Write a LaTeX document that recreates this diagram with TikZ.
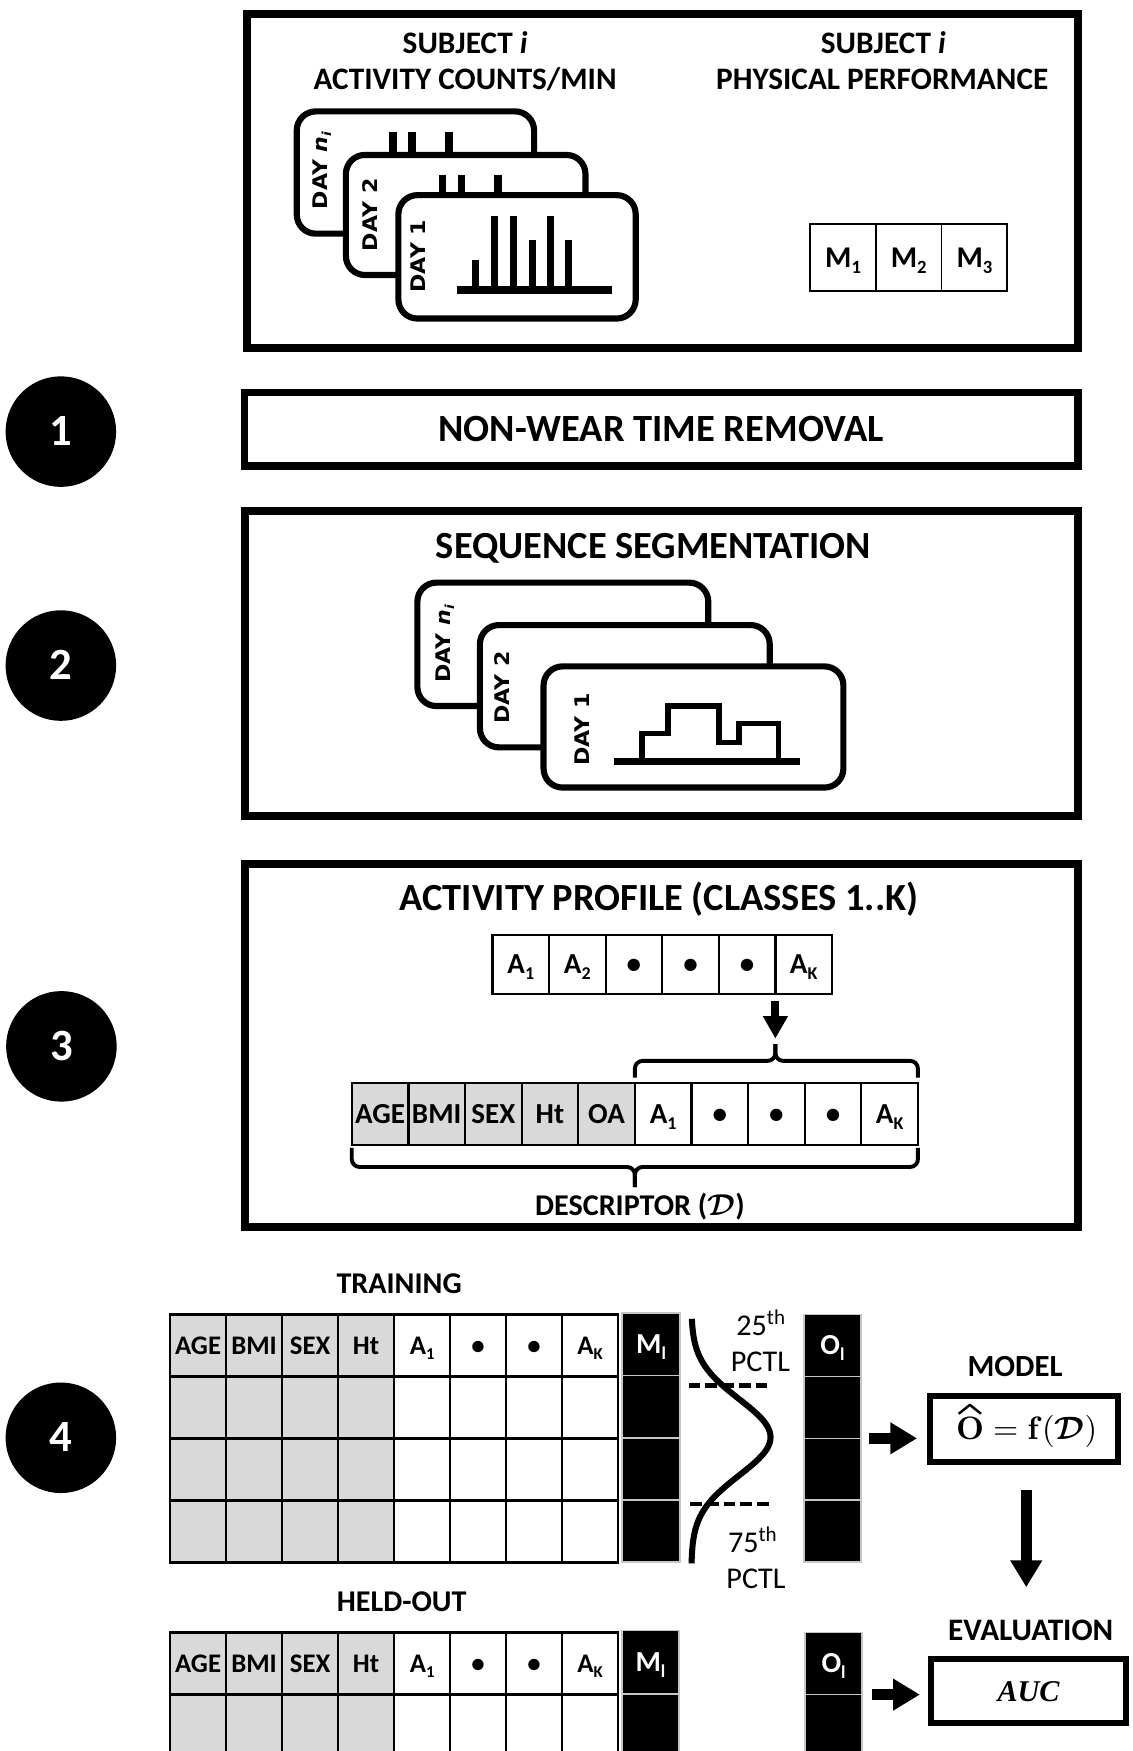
\RequirePackage{fix-cm}
\documentclass[tikz,border=0pt]{standalone}
\usepackage{amsmath}
\usepackage[no-math]{fontspec}
\setmainfont{Carlito}
\newfontfamily\dayfont{DejaVu Sans}
\newfontfamily\serifit{Liberation Serif}
\usetikzlibrary{arrows.meta,calc}
\definecolor{cellgray}{HTML}{D9D9D9}
\newcommand\fsz[1]{\fontsize{#1}{#1}\selectfont}
\newcommand\lowsub[1]{\raisebox{-0.2em}{\scalebox{0.62}{#1}}}
\newcommand\wide[1]{\scalebox{1.1}[1]{#1}}
\newcommand\dayni{\wide{DAY \textit{n}\lowsub{\textit{i}}}}
\begin{document}
\begin{tikzpicture}[x=1pt,y=-1pt,
  bigbox/.style={draw, line width=7pt},
  card/.style={draw, fill=white, line width=5.5pt, rounded corners=17pt},
  daylbl/.style={font=\dayfont\bfseries\fsz{18}, rotate=90, anchor=base west, inner sep=0pt},
  barline/.style={line width=6.5pt},
  axisline/.style={line width=7pt},
  stepline/.style={line width=5pt},
  stepnum/.style={circle, fill=black, minimum size=99pt, inner sep=0pt, text=white,
    font=\bfseries\fsz{40}, text height=25.3pt, text depth=0pt},
  title/.style={font=\bfseries\fsz{34.4}, anchor=base, inner sep=0pt},
  lbl/.style={font=\bfseries\fsz{27}, anchor=base, inner sep=0pt},
  plbl/.style={font=\fsz{27}, anchor=base, inner sep=0pt},
  cellbase/.style={draw, inner sep=0pt, outer sep=0pt, anchor=north west, text depth=0pt},
  mcell/.style={cellbase, line width=1.5pt, minimum width=58.8pt, minimum height=59.8pt,
    font=\bfseries\fsz{27}, text height=17.4pt},
  pcell/.style={cellbase, line width=2pt, minimum width=50.7pt, minimum height=55pt,
    font=\bfseries\fsz{26}, text height=16.7pt},
  tcell/.style={cellbase, line width=2.4pt, minimum width=50.15pt, minimum height=55.5pt,
    font=\bfseries\fsz{24}, text height=15.5pt},
  grayfill/.style={fill=cellgray},
  bcell/.style={cellbase, fill=black, draw=gray!45, line width=1.5pt, text=white,
    font=\bfseries\fsz{26}, text height=16.7pt},
  fatarrow/.style={line width=9.5pt, -{Triangle[width=27pt,length=24pt]}},
  thinarrow/.style={line width=7pt, -{Triangle[width=21pt,length=20pt]}},
  bracepath/.style={line width=3.5pt, rounded corners=7pt},
  dashline/.style={line width=4pt, dash pattern=on 10.5pt off 4.5pt},
  outbox/.style={draw, line width=5.5pt, inner sep=0pt, outer sep=0pt}
]
\useasboundingbox (0,0) rectangle (1014,1568);
\clip (0,0) rectangle (1014,1568);
\fill[white] (0,0) rectangle (1014,1568);

% ---- step markers ----
\node[stepnum] (n1) at (54.5,386.5) {1};
\node[stepnum] (n2) at (54.5,596) {2};
\node[stepnum] (n3) at (55,937) {3};
\node[stepnum] (n4) at (54.5,1287.5) {4};

% ---- input data ----
\draw[bigbox] (221.5,12.5) rectangle (965.5,311.5);
\node[lbl, font=\bfseries\fsz{28}] (subjA) at (416.5,47.5) {SUBJECT \textit{i}};
\node[lbl, font=\bfseries\fsz{28}] (countsA) at (416.5,79.7) {ACTIVITY COUNTS/MIN};
\node[lbl, font=\bfseries\fsz{28}] (subjB) at (791,47.5) {SUBJECT \textit{i}};
\node[lbl, font=\bfseries\fsz{28}] (perfB) at (790,79.7) {PHYSICAL PERFORMANCE};

\begin{scope}[shift={(263,97)}]
  \draw[card] (2.75,2.75) rectangle (215.25,112.25);
  \foreach \bx/\by in {72/61,89/21,106/21,123/43,139/21,155/43}
    \draw[barline] (\bx,88) -- (\bx,\by);
  \draw[axisline] (55,88) -- (194,88);
  \node[daylbl] (cnlbl) at (30,90.5) {\dayni};
\end{scope}
\begin{scope}[shift={(307,136)}]
  \draw[card] (2.75,2.75) rectangle (217.25,110.25);
  \foreach \bx/\by in {72/61,89/21,106/21,123/43,139/21,155/43}
    \draw[barline] (\bx,88) -- (\bx,\by);
  \draw[axisline] (55,88) -- (194,88);
  \node[daylbl] (c2lbl) at (31,89) {\wide{DAY 2}};
\end{scope}
\begin{scope}[shift={(354,172)}]
  \draw[card] (2.75,2.75) rectangle (215.25,113.25);
  \foreach \bx/\by in {72/61,89/21,106/21,123/43,139/21,155/43}
    \draw[barline] (\bx,88) -- (\bx,\by);
  \draw[axisline] (55,88) -- (194,88);
  \node[daylbl] (c1lbl) at (27,90) {\wide{DAY 1}};
\end{scope}

\foreach \i in {1,2,3}
  \node[mcell] (m\i) at ({725.6+(\i-1)*58.8},200.6) {M\lowsub{\i}};

% ---- step 1 ----
\draw[bigbox] (219,351.5) rectangle (965.5,417);
\node[title, font=\bfseries\fsz{34.5}] (nwt) at (592,395.4) {NON-WEAR TIME REMOVAL};

% ---- step 2 ----
\draw[bigbox] (219.5,457.5) rectangle (965.5,730.5);
\node[title] (seg) at (585,500.5) {SEQUENCE SEGMENTATION};
\begin{scope}[shift={(371,519)}]
  \draw[card] (2.75,2.75) rectangle (263.25,113.25);
  \node[daylbl] (snlbl) at (32,92.5) {\dayni};
\end{scope}
\begin{scope}[shift={(427,557)}]
  \draw[card] (2.75,2.75) rectangle (262.25,112.25);
  \node[daylbl] (s2lbl) at (29.5,91.5) {\wide{DAY 2}};
\end{scope}
\begin{scope}[shift={(484,594)}]
  \draw[card] (2.75,2.75) rectangle (271.25,111.25);
  \node[daylbl] (s1lbl) at (43.5,92) {\wide{DAY 1}};
  \draw[stepline] (91,88) -- (91,63) -- (114,63) -- (114,38) -- (160,38) -- (160,71)
    -- (178,71) -- (178,54) -- (213,54) -- (213,88);
  \draw[axisline, line width=6pt] (66,88) -- (232,88);
\end{scope}

% ---- step 3 ----
\draw[bigbox] (219.5,773.5) rectangle (965.5,1099);
\node[title] (prof) at (590,815.6) {ACTIVITY PROFILE (CLASSES 1..K)};
\foreach \t [count=\i] in {A\lowsub{1},A\lowsub{2},\textbullet,\textbullet,\textbullet,A\lowsub{K}}
  \node[pcell, minimum width=50.67pt, minimum height=53pt] (p\i) at ({441+(\i-1)*50.67},837) {\t};
\foreach \t [count=\i] in {AGE,BMI,SEX,Ht,OA}
  \node[pcell, grayfill] (d\i) at ({315+(\i-1)*50.7},970) {\t};
\foreach \t [count=\i from 6] in {A\lowsub{1},\textbullet,\textbullet,\textbullet,A\lowsub{K}}
  \node[pcell] (d\i) at ({315+(\i-1)*50.7},970) {\t};

\coordinate (ubtip) at ($(p5.south east)+(0,45)$);
\path ($(d6.north west)+(0,-20)$) coordinate (ubl)
      ($(d10.north east)+(0,-20)$) coordinate (ubr);
\draw[bracepath] ($(d6.north west)+(0,-5)$) -- (ubl) -- (ubl -| ubtip) -- (ubtip);
\draw[bracepath] ($(d10.north east)+(0,-5)$) -- (ubr) -- (ubr -| ubtip) -- (ubtip);
\draw[thinarrow] ($(p5.south east)+(0,6)$) -- ($(ubtip)+(0,-5)$);

\coordinate (lbtip) at ($(d1.south west)!0.5!(d10.south east)+(0,38)$);
\path ($(d1.south west)+(0,20)$) coordinate (lbl)
      ($(d10.south east)+(0,20)$) coordinate (lbr);
\draw[bracepath] ($(d1.south west)+(0,3)$) -- (lbl) -- (lbl -| lbtip) -- (lbtip);
\draw[bracepath] ($(d10.south east)+(0,3)$) -- (lbr) -- (lbr -| lbtip) -- (lbtip);
\node[lbl] (desc) at (573,1088.7) {DESCRIPTOR ({\boldmath$\mathcal{D}$})};

% ---- step 4: training ----
\node[lbl] (train) at (357.4,1158.1) {TRAINING};
\foreach \t [count=\c] in {AGE,BMI,SEX,Ht}
  \node[tcell, grayfill] (tr-1-\c) at ({152.3+(\c-1)*50.15},1177) {\t};
\foreach \t [count=\c from 5] in {A\lowsub{1},\textbullet,\textbullet,A\lowsub{K}}
  \node[tcell] (tr-1-\c) at ({152.3+(\c-1)*50.15},1177) {\t};
\foreach \r in {2,3,4} {
  \foreach \c in {1,...,4}
    \node[tcell, grayfill] (tr-\r-\c) at ({152.3+(\c-1)*50.15},{1177+(\r-1)*55.5}) {};
  \foreach \c in {5,...,8}
    \node[tcell] (tr-\r-\c) at ({152.3+(\c-1)*50.15},{1177+(\r-1)*55.5}) {};
}
\node[bcell, minimum width=52pt, minimum height=55.75pt] (mT1) at (557,1176) {M\lowsub{l}};
\foreach \r in {2,3,4}
  \node[bcell, minimum width=52pt, minimum height=55.75pt] (mT\r) at (557,{1176+(\r-1)*55.75}) {};
\node[bcell, minimum width=51pt, minimum height=55.5pt] (oT1) at (720,1177) {O\lowsub{l}};
\foreach \r in {2,3,4}
  \node[bcell, minimum width=51pt, minimum height=55.5pt] (oT\r) at (720,{1177+(\r-1)*55.5}) {};

% outcome distribution with quartile cuts
\draw[line width=5.4pt] plot[domain=1181:1400, samples=90, variable=\t]
  ({619+71*exp(-((\t-1287)^2)/2312)}, \t);
\draw[dashline] (616.6,1240.6) -- (689.7,1240.6);
\draw[dashline] (618,1346.6) -- (689.7,1346.6);
\node[plbl] (p25) at (681.5,1196) {25\textsuperscript{th}};
\node[plbl] (pctlA) at (681,1228.4) {PCTL};
\node[plbl] (p75) at (674,1390) {75\textsuperscript{th}};
\node[plbl] (pctlB) at (677,1422.7) {PCTL};

% model and evaluation
\node[lbl, font=\bfseries\fsz{27.5}] (modellbl) at (909,1232.7) {MODEL};
\node[outbox, minimum width=168.5pt, minimum height=59.5pt] (model) at (917,1279.5) {};
\node[inner sep=0pt, anchor=base west] (mform) at (856,1289)
  {\scalebox{2.9}{$\mathbf{O}=\mathbf{f}(\boldsymbol{\mathcal{D}})$}};
% circumflex over the estimated outcome
\draw[line width=2.2pt, line join=round]
  ($(mform.base west)+(2.5,-23)$) .. controls ($(mform.base west)+(8,-27)$) ..
  ($(mform.base west)+(12.5,-31)$) .. controls ($(mform.base west)+(17,-27)$) ..
  ($(mform.base west)+(22.5,-23)$);
\node[lbl, font=\bfseries\fsz{28}] (evallbl) at (923,1469.4) {EVALUATION};
\node[outbox, minimum width=174.5pt, minimum height=57.5pt, font={\serifit\bfseries\itshape\fsz{27}}]
  (auc) at (921,1514.5) {AUC};

\draw[fatarrow] ($(oT2.south east)+(7,0)$) -- ($(oT2.south east -| model.west)+(-11.5,0)$);
\draw[fatarrow] ($(model.south)+(2,25.4)$) -- ($(model.south |- evallbl.north)+(2,-29.5)$);

% ---- step 4: held-out ----
\node[lbl] (held) at (359.7,1443.4) {HELD-OUT};
\foreach \t [count=\c] in {AGE,BMI,SEX,Ht}
  \node[tcell, grayfill] (ho-1-\c) at ({152.3+(\c-1)*50.15},1462) {\t};
\foreach \t [count=\c from 5] in {A\lowsub{1},\textbullet,\textbullet,A\lowsub{K}}
  \node[tcell] (ho-1-\c) at ({152.3+(\c-1)*50.15},1462) {\t};
\foreach \r in {2,3} {
  \foreach \c in {1,...,4}
    \node[tcell, grayfill] (ho-\r-\c) at ({152.3+(\c-1)*50.15},{1462+(\r-1)*55.5}) {};
  \foreach \c in {5,...,8}
    \node[tcell] (ho-\r-\c) at ({152.3+(\c-1)*50.15},{1462+(\r-1)*55.5}) {};
}
\node[bcell, minimum width=51pt, minimum height=57pt] (mH1) at (557,1460) {M\lowsub{l}};
\node[bcell, minimum width=51pt, minimum height=100pt] (mH2) at (557,1517) {};
\node[bcell, minimum width=51pt, minimum height=55.5pt] (oH1) at (721,1462) {O\lowsub{l}};
\node[bcell, minimum width=51pt, minimum height=100pt] (oH2) at (721,1517.5) {};

\draw[fatarrow] ($(oH1.south east)+(9,0)$) -- ($(oH1.south east -| auc.west)+(-10,0)$);
\end{tikzpicture}
\end{document}
